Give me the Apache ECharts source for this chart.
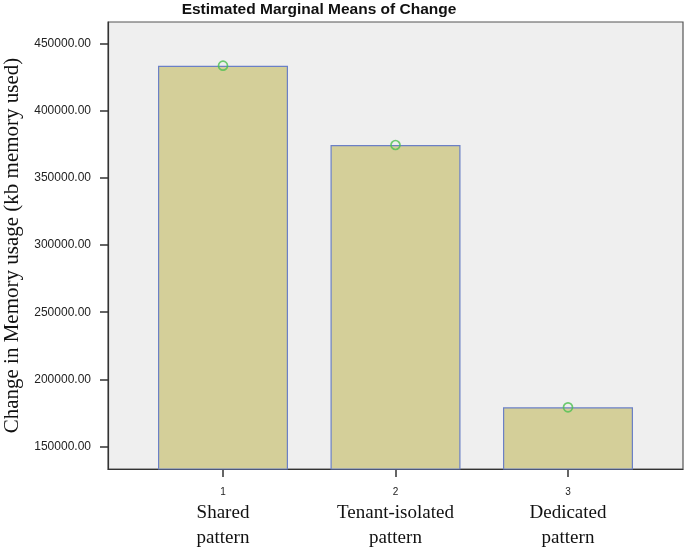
<!DOCTYPE html>
<html>
<head>
<meta charset="utf-8">
<script src="https://cdn.jsdelivr.net/npm/echarts@6/dist/echarts.min.js"></script>
<style>html,body{margin:0;padding:0;background:#fff}#c{width:685px;height:550px}</style>
</head>
<body>
<div id="c"></div>
<script>
var codes = [1, 2, 3];
var categories = [['Shared', 'pattern'], ['Tenant-isolated', 'pattern'], ['Dedicated', 'pattern']];
var means = [433340, 374360, 179290];
var yTicks = [150000, 200000, 250000, 300000, 350000, 400000, 450000];
var titleText = 'Estimated Marginal Means of Change';
var yName = 'Change in Memory usage (kb memory used)';

var pts = codes.map(function (c, i) { return [c, means[i]]; });

var chart = echarts.init(document.getElementById('c'));
chart.setOption({
  animation: false,
  backgroundColor: '#ffffff',
  graphic: [{
    type: 'text', x: 319, y: 10,
    style: { text: titleText, textAlign: 'center', textVerticalAlign: 'middle',
      fontFamily: 'Liberation Sans, Arial, sans-serif', fontWeight: 'bold', fontSize: 15.5, fill: '#111' }
  }],
  grid: { left: 108, right: 2, top: 22, bottom: 81, show: true, backgroundColor: '#efefef',
    borderColor: '#555', borderWidth: 1.2, containLabel: false, outerBoundsMode: 'none' },
  xAxis: {
    type: 'value', min: 1 / 3, max: 11 / 3,
    splitLine: { show: false },
    axisLine: { show: true, lineStyle: { color: '#333', width: 1.2 } },
    axisTick: { show: true, length: 8, lineStyle: { color: '#333', width: 1.5 }, customValues: codes },
    axisLabel: {
      customValues: codes, margin: 14,
      formatter: function (v) {
        var i = codes.indexOf(Math.round(v));
        if (i < 0) return '';
        return '{n|' + codes[i] + '}\n{c|' + categories[i][0] + '}\n{c|' + categories[i][1] + '}';
      },
      rich: {
        n: { fontFamily: 'Liberation Sans, Arial, sans-serif', fontSize: 10, lineHeight: 18, color: '#222', align: 'center' },
        c: { fontFamily: 'Liberation Serif, Times New Roman, serif', fontSize: 19, lineHeight: 25, color: '#111', align: 'center' }
      }
    }
  },
  yAxis: {
    type: 'value', min: 133400, max: 465840,
    splitLine: { show: false },
    axisLine: { show: true, lineStyle: { color: '#333', width: 1.2 } },
    axisTick: { show: true, length: 8, lineStyle: { color: '#333', width: 1.5 }, customValues: yTicks },
    axisLabel: {
      customValues: yTicks, margin: 17, color: '#222',
      fontFamily: 'Liberation Sans, Arial, sans-serif', fontSize: 12,
      formatter: function (v) { return v.toFixed(2); }
    },
    name: yName, nameLocation: 'middle', nameRotate: 90, nameGap: 81,
    nameTextStyle: { fontFamily: 'Liberation Serif, Times New Roman, serif', fontSize: 21, color: '#111' }
  },
  series: [{
    type: 'bar', data: pts, barWidth: 130,
    itemStyle: { color: '#d4cf99', borderColor: '#6b80c6', borderWidth: 1.2 }
  }, {
    type: 'scatter', data: pts, symbol: 'circle', symbolSize: 9, z: 5,
    itemStyle: { color: 'rgba(0,0,0,0)', borderColor: '#4cc050', borderWidth: 1.7 }
  }]
});
</script>
</body>
</html>
